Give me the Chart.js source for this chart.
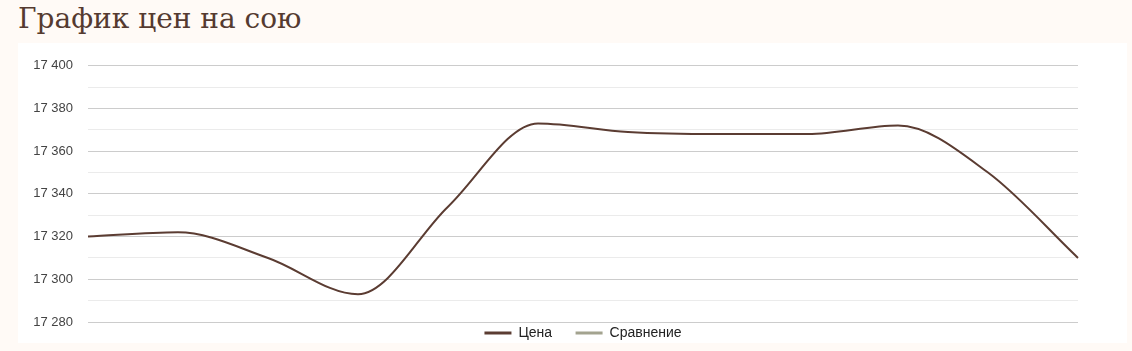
<!DOCTYPE html>
<html lang="ru">
<head>
<meta charset="utf-8">
<script src="https://cdn.jsdelivr.net/npm/chart.js@4"></script>
<style>
  html, body { margin: 0; padding: 0; background: #fffaf6; }
  body { width: 1132px; height: 351px; position: relative; overflow: hidden; }
  h2 {
    position: absolute; left: 18px; top: 0; margin: 0;
    font: 400 28px "DejaVu Serif", serif; color: #553a30; line-height: 38px;
  }
  #panel { position: absolute; left: 18px; top: 43px; width: 1109px; height: 300px; background: #fff; }
  #box { position: absolute; left: 18px; top: 43px; width: 1109px; height: 307px; }
</style>
</head>
<body>
<h2>График цен на сою</h2>
<div id="panel"></div>
<div id="box"><canvas id="myChart"></canvas></div>
<script>
// данные
var categories = ['1', '2', '3', '4', '5', '6', '7', '8', '9', '10', '11', '12'];
var priceValues = [17320, 17322, 17310, 17293, 17334, 17373, 17369, 17368, 17368, 17372, 17350, 17310];
var compareValues = [];
var yTicks = [17280, 17300, 17320, 17340, 17360, 17380, 17400];

function fmt(v) {
    var s = String(v);
    return s.slice(0, s.length - 3) + ' ' + s.slice(-3);
}

var ctx = document.getElementById('myChart').getContext('2d');

var myChart = new Chart(ctx, {
    type: 'line',
    data: {
        labels: categories,
        datasets: [{
            label: 'Цена',
            data: priceValues,
            borderColor: '#5b3c32',
            backgroundColor: '#5b3c32',
            borderWidth: 2,
            pointRadius: 0,
            cubicInterpolationMode: 'monotone'
        }, {
            label: 'Сравнение',
            data: compareValues,
            borderColor: '#a3a38f',
            backgroundColor: '#a3a38f',
            borderWidth: 2,
            pointRadius: 0
        }]
    },
    options: {
        responsive: true,
        maintainAspectRatio: false,
        animation: false,
        // отрицательный отступ справа сдвигает центр легенды к центру графика
        layout: { padding: { left: 0, right: -21, top: 20, bottom: 0 } },
        scales: {
            x: { display: false, offset: false },
            y: {
                min: yTicks[0],
                max: yTicks[yTicks.length - 1],
                border: { display: false },
                grid: {
                    drawTicks: false,
                    color: function (c) { return c.tick.value % 20 === 0 ? '#cccccc' : '#ebebeb'; }
                },
                ticks: {
                    stepSize: 10,
                    padding: 15,
                    color: '#444',
                    font: { family: 'Liberation Sans', size: 13 },
                    callback: function (v) { return yTicks.indexOf(v) >= 0 ? fmt(v) : ''; }
                },
                afterFit: function (axis) { axis.width = 70; }
            },
            yRight: {
                position: 'right',
                border: { display: false },
                grid: { display: false },
                ticks: { display: false },
                afterFit: function (axis) { axis.width = 70; }
            }
        },
        plugins: {
            tooltip: { enabled: false },
            legend: {
                position: 'bottom',
                labels: {
                    usePointStyle: true,
                    pointStyle: 'line',
                    pointStyleWidth: 27,
                    padding: 4,
                    color: '#222',
                    font: { family: 'Liberation Sans', size: 14 },
                    generateLabels: function (chart) {
                        var items = Chart.defaults.plugins.legend.labels.generateLabels(chart);
                        items[0].text += '\u00a0\u00a0\u00a0\u00a0\u00a0';
                        items.forEach(function (it) { it.lineWidth = 3; });
                        return items;
                    }
                }
            }
        }
    }
});
</script>
</body>
</html>
